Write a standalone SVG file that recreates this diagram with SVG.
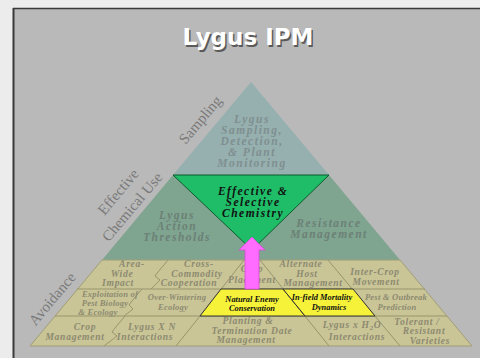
<svg xmlns="http://www.w3.org/2000/svg" width="480" height="358" viewBox="0 0 480 358">
<defs>
<style>
.t{font-family:"Liberation Serif","Times New Roman",serif;font-style:italic;font-weight:bold;text-anchor:middle}
.big{font-size:11.5px;letter-spacing:1.5px}
.top{fill:#7f8f90}
.mid{fill:#6c8075}
.ch{fill:#111}
.c{font-size:9.6px;fill:#8d8a70;letter-spacing:0.7px}
.s{font-size:8.6px;fill:#8d8a70;letter-spacing:0.2px}
.y{font-size:8.4px;fill:#111}
.side{font-family:"Liberation Serif","Times New Roman",serif;font-size:15px;fill:#7a7a7a;text-anchor:middle}
.div{fill:none;stroke:#99956d;stroke-width:1}
.ttl{font-family:"DejaVu Sans",Verdana,sans-serif;font-weight:bold;font-size:23px;text-anchor:middle}
</style>
</defs>
<rect x="0" y="0" width="480" height="358" fill="#ececec"/>
<rect x="13" y="8" width="467" height="350" fill="#b9b9b9"/>
<line x1="13.5" y1="8" x2="13.5" y2="358" stroke="#3a3a3a" stroke-width="2"/>
<line x1="13" y1="8.5" x2="480" y2="8.5" stroke="#3a3a3a" stroke-width="1.5"/>

<g id="title">
<text class="ttl" x="249.5" y="46.5" fill="#5a5a5a">Lygus IPM</text>
<text class="ttl" x="248" y="45" fill="#ffffff">Lygus IPM</text>
</g>

<g id="labels">
<text class="side" transform="translate(204,123) rotate(-50)">Sampling</text>
<text class="side" transform="translate(122,195) rotate(-50)">Effective</text>
<text class="side" transform="translate(136,210) rotate(-50)">Chemical Use</text>
<text class="side" transform="translate(56,302) rotate(-50)">Avoidance</text>
</g>

<g id="sampling">
<polygon points="251,82 173,175 329,175" fill="#96afaf"/>
<text class="t big top" x="252" y="123">Lygus</text>
<text class="t big top" x="252" y="134">Sampling,</text>
<text class="t big top" x="252" y="145">Detection,</text>
<text class="t big top" x="252" y="156">&amp; Plant</text>
<text class="t big top" x="252" y="167">Monitoring</text>
</g>

<g id="chemical-use">
<polygon points="173,175 329,175 400,260 102,260" fill="#7fa591"/>
<text class="t big mid" x="177" y="219">Lygus</text>
<text class="t big mid" x="177" y="230">Action</text>
<text class="t big mid" x="177" y="241">Thresholds</text>
<text class="t big mid" x="329" y="227">Resistance</text>
<text class="t big mid" x="329" y="238">Management</text>
</g>

<g id="chemistry">
<polygon points="173,175 329,175 252,250" fill="#1fbd68" stroke="#0d5a2c" stroke-width="1"/>
<text class="t big ch" x="253" y="195">Effective &amp;</text>
<text class="t big ch" x="253" y="206">Selective</text>
<text class="t big ch" x="253" y="217">Chemistry</text>
</g>

<g id="avoidance">
<polygon points="102,260 400,260 472,346 30,346" fill="#c9c597" stroke="#a29e76" stroke-width="1"/>
<line class="div" x1="77" y1="289" x2="425" y2="289"/>
<line class="div" x1="55" y1="316" x2="447" y2="316"/>
<path class="div" d="M168,260 L158,272 L155,276 L160,280 L151,289"/>
<path class="div" d="M142,289 L132,301 L129,305 L133,309 L124,316"/>
<path class="div" d="M125,316 L115,328 L112,332 L117,336 L104,346"/>
<path class="div" d="M244,260 L200,316 L176,346"/>
<path class="div" d="M260,260 L329,346"/>
<path class="div" d="M328,260 L400,346"/>
</g>

<g id="area-wide">
<text class="t c" x="132" y="267">Area-</text>
<text class="t c" x="122" y="276.5">Wide</text>
<text class="t c" x="118" y="286">Impact</text>
</g>
<g id="cross-commodity">
<text class="t c" x="199" y="267">Cross-</text>
<text class="t c" x="197" y="276.5">Commodity</text>
<text class="t c" x="189" y="286">Cooperation</text>
</g>
<g id="crop-placement">
<text class="t c" x="252" y="272">Crop</text>
<text class="t c" x="252" y="283">Placement</text>
</g>
<g id="alternate-host">
<text class="t c" x="301" y="267">Alternate</text>
<text class="t c" x="307" y="276.5">Host</text>
<text class="t c" x="313" y="286">Management</text>
</g>
<g id="inter-crop">
<text class="t c" x="375" y="275">Inter-Crop</text>
<text class="t c" x="376" y="284.5">Movement</text>
</g>

<g id="exploitation">
<text class="t s" x="110" y="297">Exploitation of</text>
<text class="t s" x="105" y="306">Pest Biology</text>
<text class="t s" x="98" y="315">&amp; Ecology</text>
</g>
<g id="over-wintering">
<text class="t s" x="177" y="300">Over-Wintering</text>
<text class="t s" x="173" y="310">Ecology</text>
</g>
<g id="natural-enemy">
<polygon points="221,289 283,289 305,316 200,316" fill="#f6f23a" stroke="#333" stroke-width="1"/>
<text class="t y" x="252" y="302">Natural Enemy</text>
<text class="t y" x="252" y="311">Conservation</text>
</g>
<g id="in-field">
<polygon points="283,289 353,289 375,316 305,316" fill="#f6f23a" stroke="#333" stroke-width="1"/>
<text class="t y" x="322" y="300">In-field Mortality</text>
<text class="t y" x="329" y="310">Dynamics</text>
</g>
<g id="pest-outbreak">
<text class="t s" x="396" y="300">Pest &amp; Outbreak</text>
<text class="t s" x="397" y="310">Prediction</text>
</g>

<g id="crop-management">
<text class="t c" x="85" y="330">Crop</text>
<text class="t c" x="75" y="340">Management</text>
</g>
<g id="lygus-n">
<text class="t c" x="152" y="330">Lygus X N</text>
<text class="t c" x="145" y="340">Interactions</text>
</g>
<g id="planting">
<text class="t c" x="248" y="324">Planting &amp;</text>
<text class="t c" x="252" y="333.5">Termination Date</text>
<text class="t c" x="246" y="343">Management</text>
</g>
<g id="lygus-h2o">
<text class="t c" x="352" y="328">Lygus x H<tspan font-size="6.5" dy="2">2</tspan><tspan dy="-2">O</tspan></text>
<text class="t c" x="357" y="340">Interactions</text>
</g>
<g id="tolerant">
<text class="t c" x="417" y="324.5">Tolerant /</text>
<text class="t c" x="424" y="334">Resistant</text>
<text class="t c" x="430" y="343.5">Varieties</text>
</g>

<g id="connectors">
<polygon points="252,237 265,250 259,250 259,289 245,289 245,250 239,250" fill="#ff6cff" stroke="#d84ad8" stroke-width="0.8"/>
</g>
</svg>
